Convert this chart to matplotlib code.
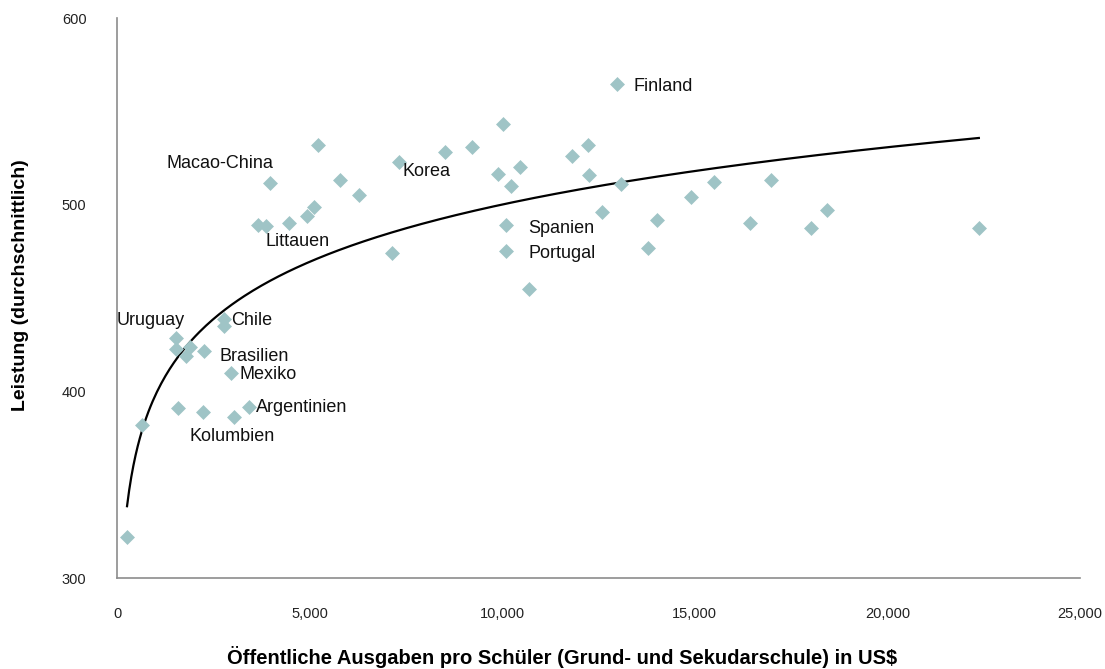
import numpy as np
import matplotlib.pyplot as plt

plt.rcParams['font.family'] = ['Liberation Sans', 'DejaVu Sans']

# public spending per student (US$) and mean performance
spend = [260, 650, 1535, 1535, 1900, 1795, 2263, 1587, 2237, 2783,
         2783, 2966, 3044, 3434, 3980, 3668, 3876, 4474, 4943, 5125,
         5229, 5801, 6270, 7128, 7310, 8507, 9209, 10016, 9886, 10224,
         10458, 10094, 10094, 10692, 11811, 12227, 12253, 12591, 13085, 12981,
         13787, 14021, 14906, 15504, 16441, 16987, 18028, 18444, 22373]
score = [322, 382, 428.5, 422.6, 424, 419, 421.5, 391, 389, 439,
         435, 410, 386, 391.4, 511.8, 489, 488.7, 490, 494, 499,
         532, 513.4, 505, 474, 523, 528, 531, 543.5, 516.7, 510,
         520, 489, 475, 455, 526, 532, 516, 496, 511, 564.5,
         477, 492, 504, 512, 490, 513, 487.6, 497, 487.6]

# country name -> index of its point
named = {'Finland': 39, 'Macao-China': 14, 'Korea': 24, 'Littauen': 16,
         'Spanien': 31, 'Portugal': 32, 'Uruguay': 2, 'Chile': 9,
         'Brasilien': 6, 'Mexiko': 11, 'Argentinien': 13, 'Kolumbien': 12}

# text offsets in points and horizontal alignment
layout = {'Finland': (11.5, -1.4, 'left'), 'Macao-China': (2, 13.7, 'right'),
          'Korea': (3, -7, 'left'), 'Littauen': (-0.7, -11, 'left'),
          'Spanien': (16, -2, 'left'), 'Portugal': (16, -1.5, 'left'),
          'Uruguay': (6.5, 13, 'right'), 'Chile': (5, -1.5, 'left'),
          'Brasilien': (11, -3.6, 'left'), 'Mexiko': (5.8, -1.5, 'left'),
          'Argentinien': (5, 0, 'left'), 'Kolumbien': (-1.5, -14, 'center')}

fig = plt.figure(figsize=(11.05, 6.69), dpi=100)
ax = fig.add_axes([0.1059, 0.136, 0.8715, 0.837])

ax.scatter(spend, score, marker='D', s=58, color='#9fc4c6', linewidths=0, zorder=3)

# logarithmic trend line
xs = np.array(spend, dtype=float)
b, a = np.polyfit(np.log(xs), np.array(score), 1)
xt = np.linspace(xs.min(), xs.max(), 400)
ax.plot(xt, a + b * np.log(xt), color='black', lw=1.6, zorder=2)

for name, i in named.items():
    dx, dy, ha = layout[name]
    ax.annotate(name, (spend[i], score[i]), xytext=(dx, dy), textcoords='offset points',
                ha=ha, va='center', fontsize=13, color='#111111')

ax.set_xlim(0, 25000)
ax.set_ylim(300, 600)
ax.set_xticks(range(0, 25001, 5000))
ax.set_xticklabels(['{:,}'.format(v) for v in range(0, 25001, 5000)])
ax.set_yticks([300, 400, 500, 600])
ax.tick_params(length=0, labelsize=10.5, colors='#222222')
ax.tick_params(axis='x', pad=21)
ax.tick_params(axis='y', pad=22)
for s in ['top', 'right']:
    ax.spines[s].set_visible(False)
for s in ['left', 'bottom']:
    ax.spines[s].set_color('#8c8c8c')
    ax.spines[s].set_linewidth(1.2)

fig.text(562 / 1105, 1 - 657 / 669,
         'Öffentliche Ausgaben pro Schüler (Grund- und Sekudarschule) in US$',
         fontsize=14.5, fontweight='bold', ha='center', va='center')
fig.text(21 / 1105, 1 - 285 / 669, 'Leistung (durchschnittlich)', rotation=90,
         fontsize=14, fontweight='bold', ha='center', va='center')

fig.savefig('out.png', dpi=100)
